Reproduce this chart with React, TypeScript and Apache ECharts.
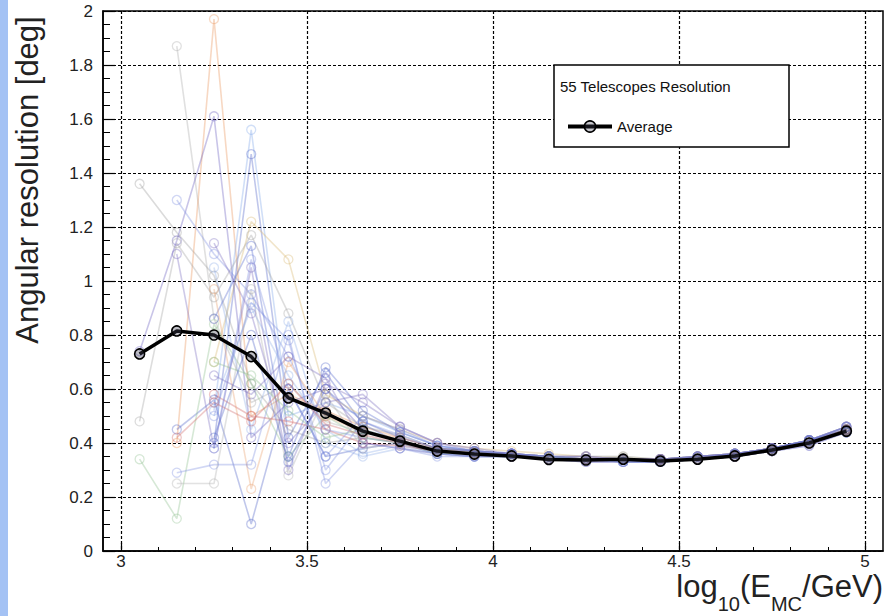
import React, { useEffect, useRef } from "react";
import * as echarts from "echarts";

const FONT = "'Liberation Sans', Arial, Helvetica, sans-serif";

// Energy bin centres, log10(E_MC/GeV)
const energies = [3.05, 3.15, 3.25, 3.35, 3.45, 3.55, 3.65, 3.75, 3.85, 3.95, 4.05, 4.15, 4.25, 4.35, 4.45, 4.55, 4.65, 4.75, 4.85, 4.95];

// Average angular resolution [deg]
const averageValues = [0.73, 0.815, 0.8, 0.72, 0.567, 0.511, 0.444, 0.407, 0.37, 0.359, 0.352, 0.339, 0.337, 0.34, 0.333, 0.34, 0.352, 0.374, 0.4, 0.444];

// Individual telescope curves (faint lines), null = no point in that bin
const tel01 = [1.36, 1.18, 1.02, 0.62, 0.45, 0.4, 0.42, 0.4, 0.38, 0.37, 0.36, 0.35, 0.35, 0.34, 0.34, 0.35, 0.36, 0.38, 0.41, 0.45];
const tel02 = [null, 1.87, 0.86, 0.55, 0.62, 0.48, 0.44, 0.41, 0.37, 0.36, 0.36, 0.35, 0.34, 0.34, 0.34, 0.34, 0.36, 0.38, 0.4, 0.45];
const tel03 = [null, 0.4, 1.97, 0.5, 0.58, 0.52, 0.46, 0.42, 0.38, 0.36, 0.35, 0.35, 0.34, 0.34, 0.33, 0.34, 0.35, 0.37, 0.4, 0.44];
const tel04 = [0.74, 1.15, 1.61, 0.42, 0.55, 0.6, 0.45, 0.41, 0.37, 0.36, 0.36, 0.34, 0.34, 0.34, 0.34, 0.34, 0.36, 0.38, 0.41, 0.45];
const tel05 = [null, null, 0.52, 1.56, 0.5, 0.55, 0.5, 0.44, 0.39, 0.37, 0.36, 0.35, 0.35, 0.35, 0.34, 0.35, 0.36, 0.38, 0.41, 0.46];
const tel06 = [null, null, 0.4, 1.47, 0.42, 0.66, 0.47, 0.4, 0.37, 0.36, 0.35, 0.34, 0.34, 0.34, 0.33, 0.34, 0.35, 0.37, 0.4, 0.44];
const tel07 = [null, 1.3, 1.1, 0.95, 0.72, 0.45, 0.42, 0.4, 0.36, 0.36, 0.35, 0.34, 0.34, 0.33, 0.33, 0.34, 0.35, 0.37, 0.4, 0.44];
const tel08 = [null, null, 0.7, 1.22, 1.08, 0.58, 0.5, 0.45, 0.4, 0.38, 0.37, 0.36, 0.35, 0.35, 0.34, 0.35, 0.36, 0.38, 0.41, 0.46];
const tel09 = [0.48, 1.14, 0.94, 1.17, 0.88, 0.55, 0.46, 0.43, 0.38, 0.37, 0.36, 0.35, 0.34, 0.34, 0.34, 0.34, 0.36, 0.37, 0.4, 0.45];
const tel10 = [null, 0.45, 0.56, 0.1, 0.6, 0.35, 0.38, 0.4, 0.36, 0.35, 0.35, 0.34, 0.33, 0.33, 0.33, 0.34, 0.35, 0.37, 0.4, 0.44];
const tel11 = [0.34, 0.12, 0.84, 0.62, 0.35, 0.5, 0.42, 0.4, 0.36, 0.36, 0.35, 0.34, 0.34, 0.34, 0.33, 0.34, 0.35, 0.37, 0.4, 0.44];
const tel12 = [null, 0.29, 0.32, 0.32, 0.8, 0.25, 0.4, 0.38, 0.35, 0.35, 0.35, 0.34, 0.34, 0.33, 0.33, 0.34, 0.35, 0.37, 0.39, 0.44];
const tel13 = [null, null, 0.58, 0.5, 0.48, 0.45, 0.4, 0.39, 0.37, 0.36, 0.35, 0.35, 0.34, 0.34, 0.34, 0.34, 0.35, 0.38, 0.4, 0.45];
const tel14 = [null, 1.1, 0.38, 1.05, 0.3, 0.62, 0.55, 0.46, 0.4, 0.37, 0.36, 0.35, 0.34, 0.34, 0.34, 0.35, 0.36, 0.38, 0.41, 0.46];
const tel15 = [null, null, 1.05, 0.45, 0.85, 0.4, 0.35, 0.38, 0.36, 0.35, 0.35, 0.34, 0.34, 0.33, 0.33, 0.34, 0.35, 0.37, 0.4, 0.44];
const tel16 = [null, null, 0.86, 1.13, 0.35, 0.68, 0.52, 0.44, 0.39, 0.37, 0.36, 0.35, 0.34, 0.34, 0.34, 0.35, 0.36, 0.38, 0.41, 0.46];
const tel17 = [null, null, 0.97, 0.23, 0.7, 0.5, 0.44, 0.42, 0.38, 0.37, 0.36, 0.35, 0.35, 0.34, 0.34, 0.35, 0.36, 0.38, 0.4, 0.45];
const tel18 = [null, 0.25, 0.25, 0.97, 0.28, 0.58, 0.38, 0.4, 0.37, 0.36, 0.35, 0.34, 0.34, 0.34, 0.33, 0.34, 0.35, 0.37, 0.4, 0.45];
const tel19 = [null, null, 0.5, 0.92, 0.78, 0.3, 0.48, 0.43, 0.38, 0.37, 0.36, 0.35, 0.34, 0.34, 0.34, 0.34, 0.36, 0.38, 0.4, 0.45];
const tel20 = [null, null, 1.14, 0.88, 0.4, 0.55, 0.58, 0.46, 0.4, 0.38, 0.36, 0.35, 0.35, 0.34, 0.34, 0.35, 0.36, 0.38, 0.41, 0.46];
const tel21 = [null, null, 0.55, 0.9, 0.65, 0.45, 0.36, 0.39, 0.36, 0.35, 0.35, 0.34, 0.34, 0.33, 0.33, 0.34, 0.35, 0.37, 0.4, 0.44];
const tel22 = [null, null, 0.7, 0.65, 0.52, 0.42, 0.45, 0.41, 0.37, 0.36, 0.35, 0.35, 0.34, 0.34, 0.34, 0.34, 0.35, 0.37, 0.4, 0.45];
const tel23 = [null, null, 0.42, 0.8, 0.33, 0.6, 0.48, 0.42, 0.38, 0.37, 0.36, 0.35, 0.34, 0.34, 0.34, 0.35, 0.36, 0.38, 0.41, 0.45];
const tel24 = [null, 0.42, 0.55, 0.48, 0.62, 0.47, 0.43, 0.4, 0.37, 0.36, 0.35, 0.34, 0.34, 0.34, 0.34, 0.34, 0.35, 0.37, 0.4, 0.45];
const tel25 = [null, null, 0.38, 1.08, 0.6, 0.35, 0.5, 0.45, 0.39, 0.37, 0.36, 0.35, 0.35, 0.34, 0.34, 0.35, 0.36, 0.38, 0.41, 0.46];
const tel26 = [null, null, 0.65, 0.58, 0.72, 0.64, 0.4, 0.38, 0.36, 0.35, 0.35, 0.34, 0.33, 0.33, 0.33, 0.34, 0.35, 0.37, 0.39, 0.44];

const telescopeCurves = [tel01, tel02, tel03, tel04, tel05, tel06, tel07, tel08, tel09, tel10, tel11, tel12, tel13, tel14, tel15, tel16, tel17, tel18, tel19, tel20, tel21, tel22, tel23, tel24, tel25, tel26];
const telescopeColors = [
  "#9a9a9a", "#a8a8a8", "#e8925a", "#6a5fc0", "#7fa6e8", "#4f63c8", "#7f8fe0", "#d8b870", "#a0a0a0",
  "#4f63c8", "#8cbf8c", "#7f8fe0", "#d06060", "#7a6cc0", "#8fb0e8", "#5568cc", "#e8a070", "#b0b0b0",
  "#7f8fe0", "#7a6cc0", "#8fb0e8", "#8cbf8c", "#4f63c8", "#d06a6a", "#7f8fe0", "#7a6cc0",
];

// Axis ticks
const xMin = 3;
const xMax = 5;
const xInterval = 0.5;
const yMin = 0;
const yMax = 2;
const yInterval = 0.2;

const legendTitle = "55 Telescopes Resolution";
const averageName = "Average";

export default function App() {
  const ref = useRef<HTMLDivElement>(null);

  useEffect(() => {
    if (!ref.current) return;
    const chart = echarts.init(ref.current, undefined, { renderer: "svg" });

    const toPairs = (vals: (number | null)[]) =>
      energies.map((x, i) => (vals[i] == null ? null : [x, vals[i]])).filter((p) => p !== null);

    const faint = telescopeCurves.map((vals, k) => ({
      type: "line",
      name: "Telescope " + (k + 1),
      xAxisIndex: 1,
      yAxisIndex: 1,
      data: toPairs(vals),
      symbol: "circle",
      symbolSize: 9,
      silent: true,
      z: 2,
      lineStyle: { color: telescopeColors[k], width: 1.6, opacity: 0.36 },
      itemStyle: { color: "rgba(0,0,0,0)", borderColor: telescopeColors[k], borderWidth: 1.3, opacity: 0.36 },
      emphasis: { disabled: true },
    }));

    const avg = {
      type: "line",
      name: averageName,
      xAxisIndex: 1,
      yAxisIndex: 1,
      data: toPairs(averageValues),
      symbol: "circle",
      symbolSize: 10,
      z: 10,
      lineStyle: { color: "#000", width: 3.5 },
      itemStyle: { color: "rgba(70,70,90,0.35)", borderColor: "#000", borderWidth: 1.6 },
      emphasis: { disabled: true },
    };

    const dashed = { color: "#000", width: 1.2, type: [3, 2] };

    chart.setOption({
      animation: false,
      backgroundColor: "#fff",
      textStyle: { fontFamily: FONT },
      grid: [
        { left: 103, right: 5, top: 11, bottom: 65, show: true, borderColor: "#000", borderWidth: 1.5, backgroundColor: "transparent" },
        { left: 121, right: 23, top: 11, bottom: 65 },
      ],
      xAxis: [
        {
          type: "value",
          gridIndex: 0,
          min: 2.952,
          max: 5.045,
          axisLine: { show: true, lineStyle: { color: "#000", width: 1.5 } },
          axisTick: { show: false },
          axisLabel: { show: false },
          splitLine: { show: false },
        },
        {
          type: "value",
          gridIndex: 1,
          min: xMin,
          max: xMax,
          interval: xInterval,
          axisLine: { show: false },
          axisTick: { show: true, inside: true, length: 8, lineStyle: { color: "#000", width: 1.2 } },
          minorTick: { show: true, splitNumber: 5, length: 4, lineStyle: { color: "#000", width: 1 } },
          axisLabel: { show: true, color: "#222", fontSize: 17, lineHeight: 16, fontFamily: FONT, margin: 2 },
          splitLine: { show: true, lineStyle: dashed },
        },
      ],
      yAxis: [
        {
          type: "value",
          gridIndex: 0,
          min: yMin,
          max: yMax,
          interval: yInterval,
          axisLine: { show: true, lineStyle: { color: "#000", width: 1.5 } },
          axisTick: { show: true, inside: true, length: 12, lineStyle: { color: "#000", width: 1.2 } },
          minorTick: { show: true, splitNumber: 4, length: 7, lineStyle: { color: "#000", width: 1 } },
          axisLabel: { show: true, color: "#222", fontSize: 17, fontFamily: FONT, margin: 10 },
          splitLine: { show: true, lineStyle: dashed },
        },
        {
          type: "value",
          gridIndex: 1,
          min: yMin,
          max: yMax,
          show: false,
          splitLine: { show: false },
        },
      ],
      legend: {
        data: [averageName],
        left: 561,
        top: 114,
        z: 20,
        itemWidth: 44,
        itemHeight: 14,
        itemGap: 6,
        selectedMode: false,
        lineStyle: { width: 4, color: "#000" },
        itemStyle: { color: "rgba(70,70,90,0.3)", borderColor: "#000", borderWidth: 1.6 },
        textStyle: { color: "#111", fontSize: 15, fontFamily: FONT },
      },
      graphic: [
        { type: "rect", shape: { x: 0, y: 0, width: 8, height: 616 }, style: { fill: "#a4c2f4" }, z: 1 },
        {
          type: "rect",
          shape: { x: 554, y: 65, width: 235, height: 82 },
          style: { fill: "#fff", stroke: "#000", lineWidth: 1.5 },
          z: 15,
        },
        {
          type: "text",
          x: 560,
          y: 86,
          z: 16,
          style: { text: legendTitle, fill: "#111", fontSize: 15, fontFamily: FONT, textVerticalAlign: "middle" },
        },
        {
          type: "text",
          x: 27,
          y: 180,
          rotation: Math.PI / 2,
          z: 5,
          style: {
            text: "Angular resolution [deg]",
            fill: "#222",
            fontSize: 31,
            fontFamily: FONT,
            textAlign: "center",
            textVerticalAlign: "middle",
          },
        },
        {
          type: "text",
          right: 5,
          top: 571,
          z: 5,
          style: {
            text: "{a|log}{b|10}{a|(E}{b|MC}{a|/GeV)}",
            fill: "#222",
            fontFamily: FONT,
            rich: {
              a: { fontSize: 31, lineHeight: 28, padding: [0, 0, 12, 0], verticalAlign: "bottom", fill: "#222", fontFamily: FONT },
              b: { fontSize: 20, lineHeight: 18, verticalAlign: "bottom", fill: "#222", fontFamily: FONT },
            },
          },
        },
      ],
      series: [...faint, avg],
    });

    return () => chart.dispose();
  }, []);

  return (
    <div
      ref={ref}
      style={{ position: "absolute", left: 0, top: 0, width: 888, height: 616, background: "#fff" }}
    />
  );
}
